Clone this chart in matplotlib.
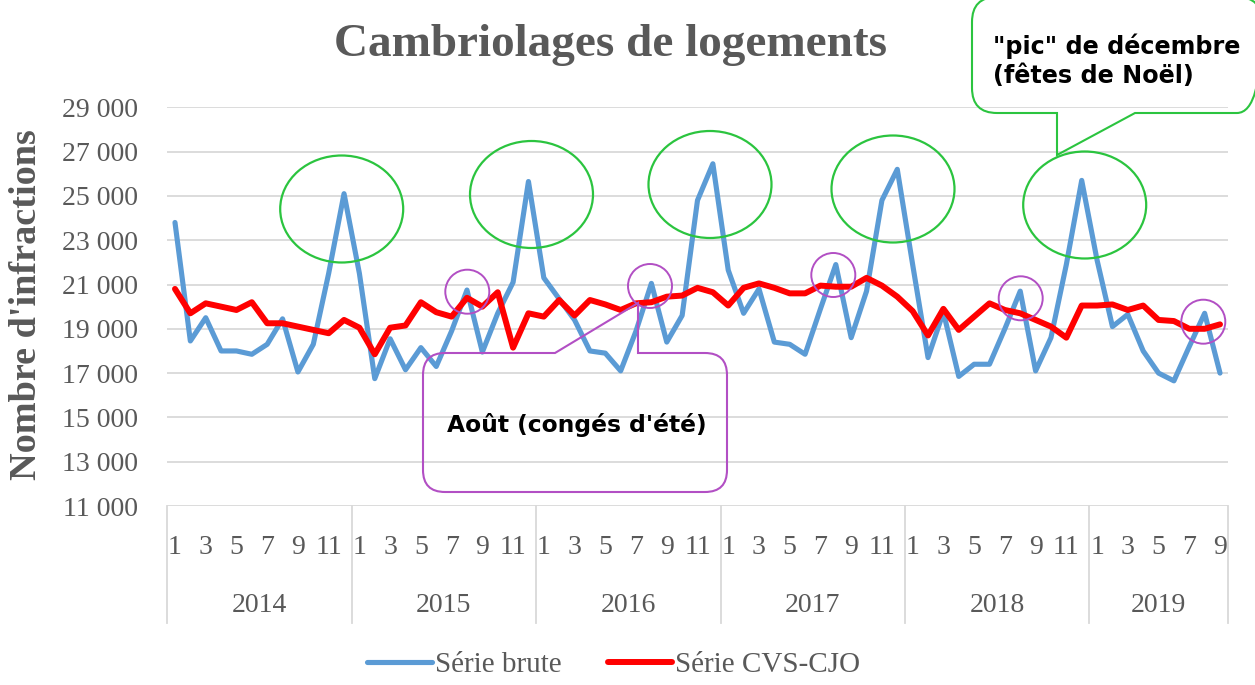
import matplotlib
matplotlib.use("Agg")
import matplotlib.pyplot as plt
from matplotlib.patches import Ellipse, Circle, PathPatch
from matplotlib.path import Path
from matplotlib.transforms import Affine2D
from matplotlib.lines import Line2D

# ---------------- data ----------------
years = [2014, 2015, 2016, 2017, 2018, 2019]
months_per_year = [12, 12, 12, 12, 12, 9]

serie_brute = [
    23800, 18450, 19500, 18000, 18000, 17850, 18300, 19450, 17050, 18300, 21500, 25100,
    21500, 16750, 18550, 17150, 18150, 17300, 18900, 20750, 17950, 19700, 21100, 25650,
    21300, 20350, 19400, 18000, 17900, 17100, 18900, 21050, 18400, 19600, 24800, 26450,
    21650, 19700, 20800, 18400, 18300, 17850, 19900, 21900, 18600, 20700, 24800, 26200,
    21900, 17700, 19750, 16850, 17400, 17400, 19000, 20700, 17100, 18600, 21900, 25700,
    22100, 19100, 19650, 18000, 17000, 16650, 18200, 19700, 17000,
]
serie_cvs = [
    20800, 19700, 20150, 20000, 19850, 20200, 19250, 19250, 19100, 18950, 18800, 19400,
    19050, 17850, 19050, 19150, 20200, 19750, 19550, 20400, 20000, 20650, 18150, 19700,
    19550, 20300, 19600, 20300, 20100, 19850, 20150, 20200, 20450, 20500, 20850, 20650,
    20050, 20850, 21050, 20850, 20600, 20600, 20950, 20900, 20900, 21300, 20950, 20450,
    19800, 18700, 19900, 18950, 19550, 20150, 19850, 19700, 19400, 19100, 18600, 20050,
    20050, 20100, 19850, 20050, 19400, 19350, 19000, 19000, 19200,
]
y_ticks = [11000, 13000, 15000, 17000, 19000, 21000, 23000, 25000, 27000, 29000]
title = "Cambriolages de logements"
y_label = "Nombre d'infractions"
legend_labels = ["Série brute", "Série CVS-CJO"]
note_dec = "\"pic\" de décembre\n(fêtes de Noël)"
note_aug = "Août (congés d'été)"

# ---------------- figure ----------------
W, H = 1255, 685
fig = plt.figure(figsize=(W / 100, H / 100), dpi=100)
fig.patch.set_facecolor("white")
PX = Affine2D().scale(1 / W, -1 / H).translate(0, 1) + fig.transFigure

GREY = "#595959"
GRID = "#d9d9d9"
SERIF = "Liberation Serif"
SANS = "DejaVu Sans"

ax_l, ax_r, ax_t, ax_b = 167.3, 1227.7, 107.3, 506.0
ax = fig.add_axes([ax_l / W, 1 - ax_b / H, (ax_r - ax_l) / W, (ax_b - ax_t) / H])
n = len(serie_brute)
xs = list(range(n))
ax.set_xlim(-0.5, n - 0.5)
ax.set_ylim(y_ticks[0], y_ticks[-1])
ax.set_yticks(y_ticks)
ax.set_yticklabels([f"{v:,}".replace(",", " ") for v in y_ticks],
                   fontsize=20, family=SERIF, color=GREY)
ax.set_xticks([])
ax.tick_params(axis="y", length=0, pad=21)
for s in ax.spines.values():
    s.set_visible(False)
ax.grid(axis="y", color=GRID, lw=1.3)
ax.set_axisbelow(True)

ax.plot(xs, serie_brute, color="#5b9bd5", lw=3.7, solid_joinstyle="round",
        solid_capstyle="round", zorder=3, label=legend_labels[0])
ax.plot(xs, serie_cvs, color="#ff0000", lw=4.3, solid_joinstyle="round",
        solid_capstyle="round", zorder=4, label=legend_labels[1])

# ---------------- multi-level category axis ----------------
axh = ax_b - ax_t
def yfrac(py):
    return (ax_b - py) / axh

xt = ax.get_xaxis_transform()
month_y = yfrac(547)
year_y = yfrac(605)
sep_bottom = yfrac(623)
idx = 0
bounds = [-0.5]
for yr, cnt in zip(years, months_per_year):
    for m in range(1, cnt + 1):
        if m % 2 == 1:
            ax.text(idx + m - 1, month_y, str(m), transform=xt, ha="center",
                    va="center", fontsize=20, family=SERIF, color=GREY)
    ax.text(idx + (cnt - 1) / 2, year_y, str(yr), transform=xt, ha="center",
            va="center", fontsize=20, family=SERIF, color=GREY)
    idx += cnt
    bounds.append(idx - 0.5)
for b in bounds:
    ax.add_line(Line2D([b, b], [0, sep_bottom], transform=xt, color=GRID,
                       lw=1.3, clip_on=False))

# ---------------- title / labels ----------------
fig.text(611 / W, 1 - 45 / H, title, ha="center", va="center", fontsize=34,
         fontweight="bold", family=SERIF, color=GREY)
fig.text(27 / W, 1 - 305 / H, y_label, ha="center", va="center", rotation=90,
         fontsize=27.5, fontweight="bold", family=SERIF, color=GREY)

leg = fig.legend(loc="center", bbox_to_anchor=(614 / W, 1 - 665 / H), ncol=2,
                 frameon=False, prop={"family": SERIF, "size": 21},
                 handlelength=2.2, handletextpad=0.12, columnspacing=1.58,
                 borderaxespad=0, borderpad=0)
for t in leg.get_texts():
    t.set_color(GREY)
for h in leg.get_lines():
    h.set_solid_capstyle("round")

# ---------------- annotations ----------------
GREEN = "#2bc43f"
PURPLE = "#b24fc4"

for cx, cy in [(341.7, 209), (531.5, 194.5), (710, 184.5), (893, 189), (1084.7, 205)]:
    fig.patches.append(Ellipse((cx, cy), 123, 107, transform=PX, fill=False,
                               ec=GREEN, lw=1.6, zorder=5))
for cx, cy in [(467.3, 291.7), (650, 286), (833.3, 275), (1020.7, 298.3), (1203.3, 321.7)]:
    fig.patches.append(Circle((cx, cy), 22, transform=PX, fill=False,
                              ec=PURPLE, lw=1.4, zorder=5))


def callout(x0, y0, x1, y1, r, top_ptr=None, bot_ptr=None):
    V, C = [], []
    def mv(p):
        V.append(p); C.append(Path.MOVETO)
    def ln(p):
        V.append(p); C.append(Path.LINETO)
    def cv(c, p):
        V.extend([c, p]); C.extend([Path.CURVE3, Path.CURVE3])
    mv((x0 + r, y0))
    if top_ptr:
        for p in top_ptr:
            ln(p)
    ln((x1 - r, y0))
    cv((x1, y0), (x1, y0 + r))
    ln((x1, y1 - r))
    cv((x1, y1), (x1 - r, y1))
    if bot_ptr:
        for p in bot_ptr:
            ln(p)
    ln((x0 + r, y1))
    cv((x0, y1), (x0, y1 - r))
    ln((x0, y0 + r))
    cv((x0, y0), (x0 + r, y0))
    return Path(V, C)


aug_path = callout(423, 353, 727, 492, 22,
                   top_ptr=[(555, 353), (638, 303), (638, 353)])
fig.patches.append(PathPatch(aug_path, transform=PX, fill=False, ec=PURPLE,
                             lw=1.5, zorder=6))
fig.text(447 / W, 1 - 425 / H, note_aug, ha="left", va="center", fontsize=16.8,
         fontweight="bold", family=SANS, color="black", zorder=7)

dec_path = callout(972, -3, 1262, 113, 25,
                   bot_ptr=[(1135, 113), (1057, 155), (1057, 113)])
fig.patches.append(PathPatch(dec_path, transform=PX, fill=False, ec=GREEN,
                             lw=1.5, zorder=6))
fig.text(993 / W, 1 - 61 / H, note_dec, ha="left", va="center", fontsize=17.2,
         fontweight="bold", family=SANS, color="black", zorder=7,
         linespacing=1.28)

fig.savefig("out.png", dpi=100, facecolor="white")
